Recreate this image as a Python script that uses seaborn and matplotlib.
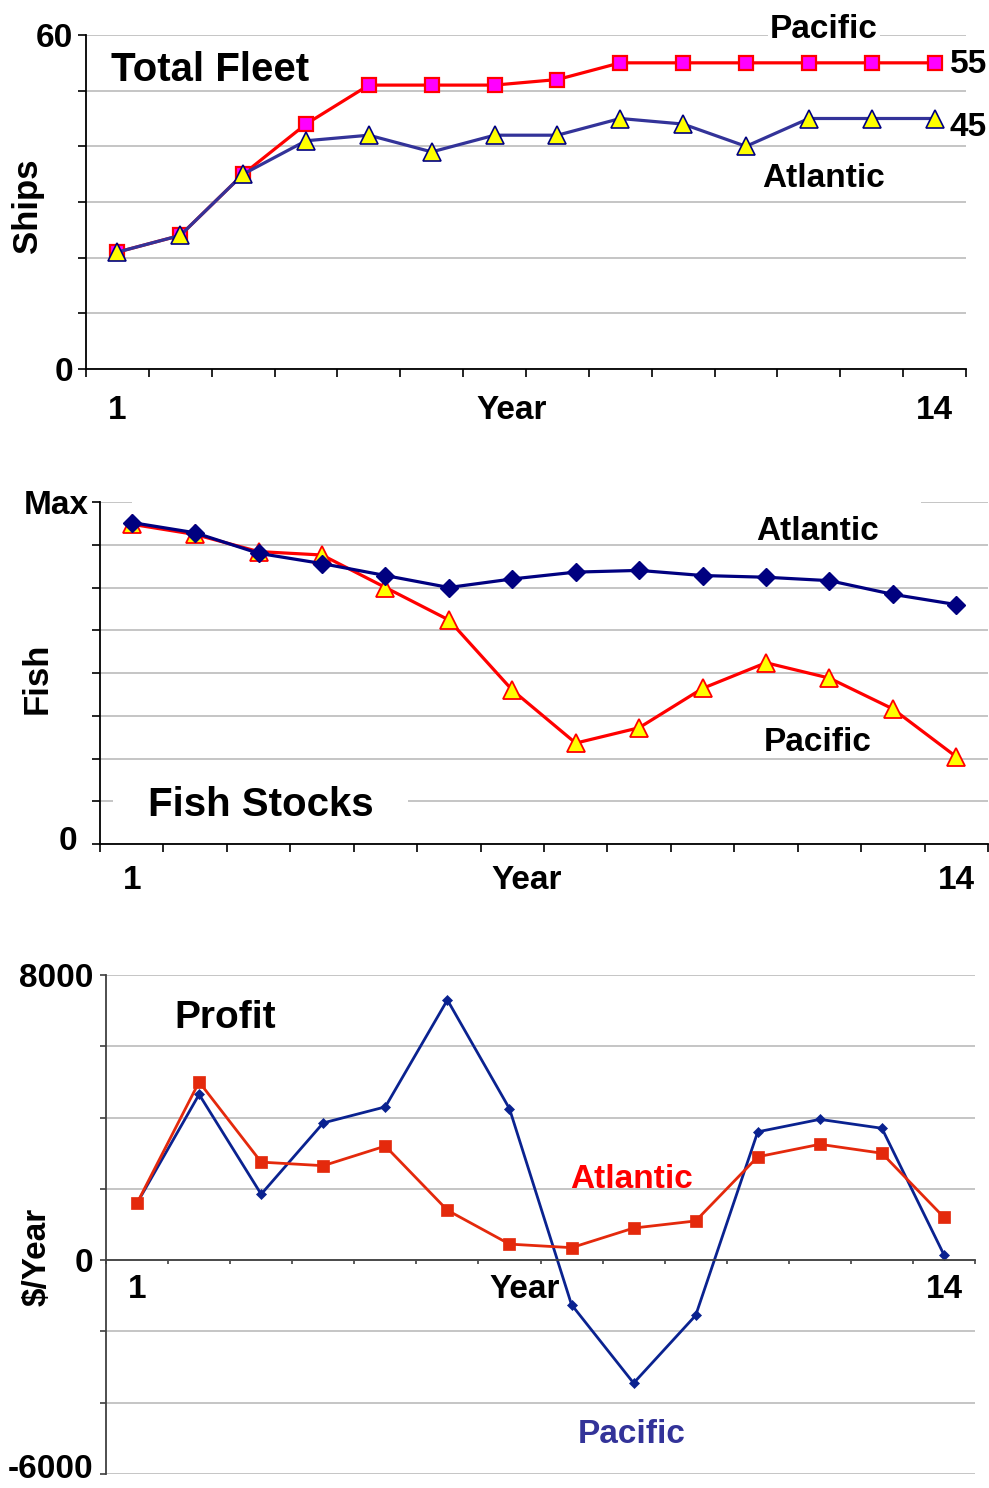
import numpy as np
import matplotlib
matplotlib.use('Agg')
import matplotlib.pyplot as plt
from matplotlib.patches import Rectangle
from matplotlib.transforms import ScaledTranslation
import seaborn as sns

# years on the x axis
years = list(range(1, 15))
x_tick_labels = ['1', 'Year', '14']

# total fleet (ships)
fleet_pacific = [21, 24, 35, 44, 51, 51, 51, 52, 55, 55, 55, 55, 55, 55]
fleet_atlantic = [21, 24, 35, 41, 42, 39, 42, 42, 45, 44, 40, 45, 45, 45]

# fish stocks as a fraction of max
fish_atlantic = [0.94, 0.91, 0.85, 0.82, 0.785, 0.75, 0.775, 0.795, 0.80, 0.785, 0.78, 0.77, 0.73, 0.70]
fish_pacific = [0.935, 0.905, 0.855, 0.845, 0.75, 0.655, 0.45, 0.295, 0.34, 0.455, 0.53, 0.485, 0.395, 0.255]

# profit ($/year)
profit_atlantic = [1600, 5000, 2750, 2650, 3200, 1400, 450, 350, 900, 1100, 2900, 3250, 3000, 1200]
profit_pacific = [1600, 4650, 1850, 3850, 4300, 7300, 4250, -1250, -3450, -1550, 3600, 3950, 3700, 150]

sns.set_style('white')
plt.rcParams['font.family'] = ['Liberation Sans', 'DejaVu Sans']
plt.rcParams['font.weight'] = 'bold'
plt.rcParams['text.color'] = 'black'
plt.rcParams['axes.labelcolor'] = 'black'
plt.rcParams['xtick.color'] = 'black'
plt.rcParams['ytick.color'] = 'black'

GRID = '#c0c0c0'
FS = 24


def setup_axes(ax, spine_color, xpad, xtick_len, year_x):
    for s in ['top', 'right']:
        ax.spines[s].set_visible(False)
    for s in ['left', 'bottom']:
        ax.spines[s].set_color(spine_color)
        ax.spines[s].set_linewidth(1.3)
    ax.set_xlim(0.5, 14.5)
    ax.set_xticks(np.arange(0.5, 15, 1), minor=True)
    ax.set_xticks([1, year_x, 14], x_tick_labels)
    ax.tick_params(axis='x', which='minor', bottom=True, length=xtick_len, width=1.2,
                   color=spine_color, direction='out')
    ax.tick_params(axis='x', which='major', bottom=True, length=0, labelsize=FS, pad=xpad)
    ax.tick_params(axis='y', which='major', left=True, color=spine_color, direction='out')
    ax.grid(axis='y', color=GRID, lw=1.3)
    ax.grid(axis='x', visible=False)
    ax.set_axisbelow(True)
    ax.set_xlabel('')


def nudge(label, dx_px, dy_px):
    label.set_transform(label.get_transform() + ScaledTranslation(dx_px / 100, dy_px / 100, fig.dpi_scale_trans))


fig = plt.figure(figsize=(9.89, 14.88), dpi=100)

# ---------------- Total fleet ----------------
ax1 = fig.add_axes([86 / 989, 1 - 369 / 1488, 880 / 989, 334 / 1488])
sns.lineplot(x=years, y=fleet_pacific, ax=ax1, color='#ff0000', lw=2.3, marker='s', markersize=10,
             markerfacecolor='#ff00ff', markeredgecolor='#ff0000', markeredgewidth=1.6, legend=False)
sns.lineplot(x=years, y=fleet_atlantic, ax=ax1, color='#333399', lw=2.3, marker='^', markersize=12.5,
             markerfacecolor='#ffff00', markeredgecolor='#000080', markeredgewidth=1.2, legend=False)
setup_axes(ax1, 'black', 19, 6, 7.28)
ax1.set_ylim(0, 60)
ax1.set_yticks(np.arange(0, 61, 10), ['0', '', '', '', '', '', '60'])
ax1.tick_params(axis='y', length=6, width=1.2, labelsize=FS, pad=3.5)
ax1.set_ylabel('Ships', fontsize=25, fontweight='bold')
ax1.yaxis.set_label_coords(-0.048, 0.49)
ax1.text(0.893, 53.8, 'Total Fleet', fontsize=29, fontweight='bold', ha='left', va='center')
ax1.text(12.24, 60.9, 'Pacific', fontsize=FS, fontweight='bold', ha='center', va='center',
         bbox=dict(boxstyle='square,pad=0.05', fc='white', ec='none'), zorder=5)
ax1.text(12.24, 34.3, 'Atlantic', fontsize=FS, fontweight='bold', ha='center', va='center')
ax1.text(14.24, 54.7, '55', fontsize=FS, fontweight='bold', ha='left', va='center')
ax1.text(14.24, 43.3, '45', fontsize=FS, fontweight='bold', ha='left', va='center')

# ---------------- Fish stocks ----------------
ax2 = fig.add_axes([100 / 989, 1 - 844 / 1488, 888 / 989, 342 / 1488])
sns.lineplot(x=years, y=fish_pacific, ax=ax2, color='#ff0000', lw=2.3, marker='^', markersize=12.5,
             markerfacecolor='#ffff00', markeredgecolor='#ff0000', markeredgewidth=1.3, legend=False)
sns.lineplot(x=years, y=fish_atlantic, ax=ax2, color='#000080', lw=2.3, marker='D', markersize=9.5,
             markerfacecolor='#000080', markeredgecolor='#000080', markeredgewidth=1, legend=False)
setup_axes(ax2, 'black', 15, 6, 7.23)
ax2.set_ylim(0, 1)
ax2.set_yticks(np.arange(0, 1.01, 0.125), ['0', '', '', '', '', '', '', '', 'Max'])
ax2.tick_params(axis='y', length=6, width=1.2, labelsize=FS, pad=2)
nudge(ax2.get_yticklabels()[0], -12, 6)
ax2.set_ylabel('Fish', fontsize=25, fontweight='bold')
ax2.yaxis.set_label_coords(-0.052, 0.485)
# white gaps in the gridlines behind the text blocks
ax2.add_patch(Rectangle((1.0, 0.985), 12.44, 0.03, fc='white', ec='none', zorder=1, clip_on=False))
ax2.add_patch(Rectangle((0.705, 0.11), 4.65, 0.03, fc='white', ec='none', zorder=1))
ax2.text(3.04, 0.115, 'Fish Stocks', fontsize=29, fontweight='bold', ha='center', va='center', zorder=5)
ax2.text(11.81, 0.914, 'Atlantic', fontsize=FS, fontweight='bold', ha='center', va='center')
ax2.text(11.82, 0.297, 'Pacific', fontsize=FS, fontweight='bold', ha='center', va='center')

# ---------------- Profit ----------------
ax3 = fig.add_axes([106 / 989, 1 - 1474 / 1488, 869 / 989, 499 / 1488])
sns.lineplot(x=years, y=profit_pacific, ax=ax3, color='#0a2290', lw=2.0, marker='D', markersize=5,
             markerfacecolor='#0a2290', markeredgecolor='#0a2290', markeredgewidth=0.5, legend=False)
sns.lineplot(x=years, y=profit_atlantic, ax=ax3, color='#e4290c', lw=2.0, marker='s', markersize=8.5,
             markerfacecolor='#e4290c', markeredgecolor='#e4290c', markeredgewidth=0.5, legend=False)
setup_axes(ax3, '#404040', 10, 3, 7.25)
ax3.spines['bottom'].set_position(('data', 0))
ax3.set_ylim(-6000, 8000)
ax3.set_yticks(np.arange(-6000, 8001, 2000), ['-6000', '', '', '0', '', '', '', '8000'])
ax3.tick_params(axis='y', length=4, width=1.2, labelsize=FS, pad=5)
# lift the bottom label a little so it stays inside the figure
nudge(ax3.get_yticklabels()[0], 0, 8)
ax3.set_ylabel('$/Year', fontsize=FS, fontweight='bold')
ax3.yaxis.set_label_coords(-0.062, 0.435)
ax3.text(2.42, 6800, 'Profit', fontsize=28, fontweight='bold', ha='center', va='center')
ax3.text(8.97, 2250, 'Atlantic', fontsize=FS, fontweight='bold', ha='center', va='center', color='#ff0000')
ax3.text(8.97, -4900, 'Pacific', fontsize=FS, fontweight='bold', ha='center', va='center', color='#333399')

fig.savefig('out.png', dpi=100)
